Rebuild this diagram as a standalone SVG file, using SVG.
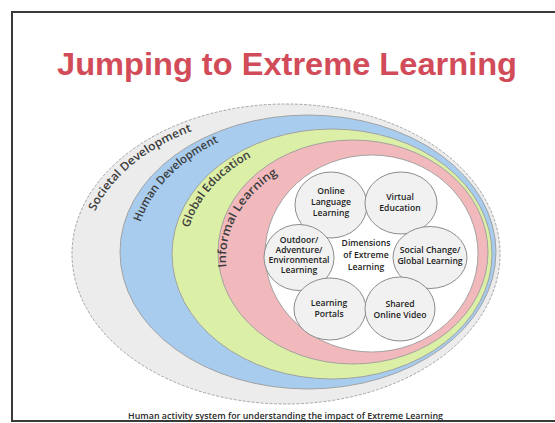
<svg xmlns="http://www.w3.org/2000/svg" width="555" height="423" viewBox="0 0 555 423">
<style>
.band{stroke:#9c9c9c;stroke-width:0.9}
.lbl{font-family:"Open Sans","Liberation Sans",sans-serif;font-weight:600;font-size:11.5px;fill:#3c3c3c}
.dim{fill:#f1f1f1;stroke:#8c8c8c;stroke-width:1}
.t{font-family:"Open Sans","Liberation Sans",sans-serif;font-weight:600;font-size:8.6px;fill:#222;text-anchor:middle}
</style>
<defs>
<path id="pSoc" d="M 95 211.4 A 205 141 0 0 1 325.6 116.1"/>
<path id="pHum" d="M 140.5 222.3 A 185 135 0 0 1 367.9 124.6"/>
<path id="pGlo" d="M 189 228 A 157 120 0 0 1 382.6 139.1"/>
<path id="pInf" d="M 226.5 267.2 A 134 106 0 0 1 394.7 155.6"/>
</defs>
<rect width="555" height="423" fill="#fff"/>
<g id="frame" fill="none" stroke="#3a3a3a" stroke-width="2">
<path d="M 555 12 H 12 V 421 H 555"/>
</g>
<text id="title" x="57" y="75" font-family="'Liberation Sans','DejaVu Sans',sans-serif" font-weight="bold" font-size="32" fill="#d24b58" textLength="460" lengthAdjust="spacingAndGlyphs">Jumping to Extreme Learning</text>
<g id="societal">
<ellipse class="band" cx="286" cy="254" rx="214" ry="150" fill="#ececec" stroke-dasharray="3 1.5"/>
</g>
<g id="human">
<ellipse class="band" cx="308" cy="252" rx="188" ry="137" fill="#a8ccee"/>
</g>
<g id="global">
<ellipse class="band" cx="332" cy="254" rx="160" ry="125" fill="#dcefa6"/>
</g>
<g id="informal">
<ellipse class="band" cx="353" cy="252" rx="135" ry="112" fill="#f1b9bc"/>
</g>
<g id="core">
<ellipse class="band" cx="371.5" cy="253.5" rx="106.5" ry="98.5" fill="#fff"/>
</g>
<g id="labels">
<text class="lbl"><textPath href="#pSoc" textLength="129" lengthAdjust="spacingAndGlyphs">Societal Development</textPath></text>
<text class="lbl"><textPath href="#pHum" textLength="115" lengthAdjust="spacingAndGlyphs">Human Development</textPath></text>
<text class="lbl"><textPath href="#pGlo" textLength="97" lengthAdjust="spacingAndGlyphs">Global Education</textPath></text>
<text class="lbl"><textPath href="#pInf" textLength="112" lengthAdjust="spacingAndGlyphs">Informal Learning</textPath></text>
</g>
<g id="online-language">
<ellipse class="dim" cx="331" cy="205" rx="36" ry="33"/>
<text class="t" x="331" y="194">Online</text>
<text class="t" x="331" y="205">Language</text>
<text class="t" x="331" y="216">Learning</text>
</g>
<g id="virtual-education">
<ellipse class="dim" cx="401" cy="203" rx="36" ry="31"/>
<text class="t" x="400" y="200">Virtual</text>
<text class="t" x="400" y="211">Education</text>
</g>
<g id="outdoor">
<ellipse class="dim" cx="299" cy="257.5" rx="35" ry="33"/>
<text class="t" x="299" y="243">Outdoor/</text>
<text class="t" x="299" y="253">Adventure/</text>
<text class="t" x="299" y="263">Environmental</text>
<text class="t" x="299" y="273">Learning</text>
</g>
<g id="social-change">
<ellipse class="dim" cx="430" cy="257.5" rx="37" ry="31"/>
<text class="t" x="430" y="252.5">Social Change/</text>
<text class="t" x="430" y="263.5">Global Learning</text>
</g>
<g id="learning-portals">
<ellipse class="dim" cx="330" cy="309" rx="36" ry="31"/>
<text class="t" x="329" y="306">Learning</text>
<text class="t" x="329" y="317">Portals</text>
</g>
<g id="shared-video">
<ellipse class="dim" cx="400" cy="309" rx="35" ry="32"/>
<text class="t" x="400" y="307">Shared</text>
<text class="t" x="400" y="318">Online Video</text>
</g>
<g id="dimensions">
<text class="t" x="366" y="245.5" font-size="9.3">Dimensions</text>
<text class="t" x="366" y="257.5" font-size="9.3">of Extreme</text>
<text class="t" x="366" y="269.5" font-size="9.3">Learning</text>
</g>
<text id="caption" x="285.5" y="419" text-anchor="middle" font-family="'Open Sans','Liberation Sans',sans-serif" font-weight="600" font-size="9.5" fill="#2a2a2a" textLength="315" lengthAdjust="spacingAndGlyphs">Human activity system for understanding the impact of Extreme Learning</text>
</svg>
